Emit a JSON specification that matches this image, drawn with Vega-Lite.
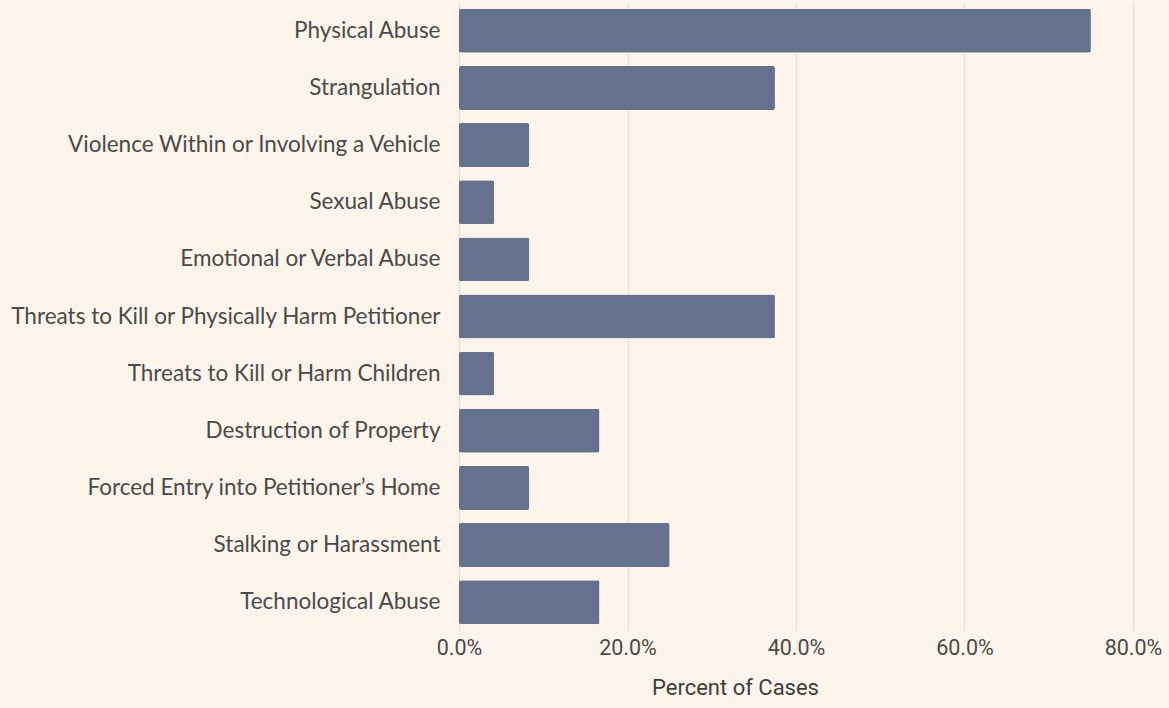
{
  "$schema": "https://vega.github.io/schema/vega-lite/v6.json",
  "autosize": "none",
  "width": 674,
  "height": 629,
  "padding": {"left": 459, "top": 2, "right": 36, "bottom": 77},
  "background": "#fdf5ec",
  "config": {"view": {"stroke": null}},
  "data": {"values": [
    {"category": "Physical Abuse", "pct": 0.75},
    {"category": "Strangulation", "pct": 0.375},
    {"category": "Violence Within or Involving a Vehicle", "pct": 0.0833},
    {"category": "Sexual Abuse", "pct": 0.0417},
    {"category": "Emotional or Verbal Abuse", "pct": 0.0833},
    {"category": "Threats to Kill or Physically Harm Petitioner", "pct": 0.375},
    {"category": "Threats to Kill or Harm Children", "pct": 0.0417},
    {"category": "Destruction of Property", "pct": 0.1667},
    {"category": "Forced Entry into Petitioner’s Home", "pct": 0.0833},
    {"category": "Stalking or Harassment", "pct": 0.25},
    {"category": "Technological Abuse", "pct": 0.1667}
  ]},
  "mark": {"type": "bar", "color": "#66718f", "cornerRadius": 2},
  "encoding": {
    "y": {
      "field": "category", "type": "nominal", "sort": null,
      "scale": {"paddingInner": 0.23, "paddingOuter": 0.12},
      "axis": {"title": null, "domain": false, "ticks": false, "labelPadding": 19,
               "labelFont": "Lato", "labelFontSize": 22.5, "labelColor": "#4a4a4a", "labelLimit": 460}
    },
    "x": {
      "field": "pct", "type": "quantitative",
      "scale": {"domain": [0, 0.8], "nice": false},
      "axis": {"title": "Percent of Cases", "format": ".1%", "values": [0, 0.2, 0.4, 0.6, 0.8],
               "domain": false, "ticks": false, "labelPadding": 6, "labelFlush": false,
               "labelFont": "Roboto", "labelFontSize": 21.5, "labelColor": "#4a4a4a",
               "titleFont": "Roboto", "titleFontSize": 22, "titleFontWeight": "normal", "titleColor": "#3d3d3d",
               "titlePadding": 19, "titleX": 276, "titleAlign": "center",
               "grid": true, "gridColor": "#e9e1d8", "gridWidth": 1.5}
    }
  }
}
